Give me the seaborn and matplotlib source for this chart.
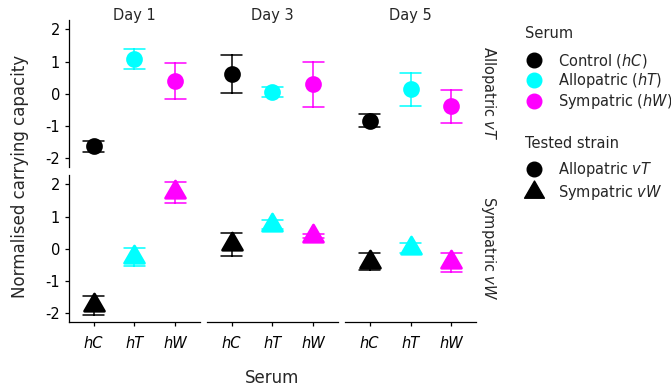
import pandas as pd
import numpy as np
import matplotlib
matplotlib.use("Agg")
import matplotlib.pyplot as plt
from matplotlib.lines import Line2D
from matplotlib.path import Path
import seaborn as sns

# Chart data: mean and half-width of the interval, [day][serum]
days = ["Day 1", "Day 3", "Day 5"]
sera = ["hC", "hT", "hW"]
strains = ["Allopatric vT", "Sympatric vW"]
strain_labels = [r"Allopatric $\mathit{vT}$", r"Sympatric $\mathit{vW}$"]
serum_labels = [r"Control ($\mathit{hC}$)", r"Allopatric ($\mathit{hT}$)", r"Sympatric ($\mathit{hW}$)"]

vT_mean = [[-1.63, 1.07, 0.40], [0.61, 0.05, 0.30], [-0.83, 0.14, -0.38]]
vT_err = [[0.18, 0.31, 0.55], [0.58, 0.15, 0.70], [0.21, 0.52, 0.51]]
vW_mean = [[-1.75, -0.25, 1.75], [0.14, 0.75, 0.40], [-0.40, 0.02, -0.42]]
vW_err = [[0.30, 0.27, 0.33], [0.36, 0.15, 0.06], [0.27, 0.15, 0.29]]

colors = ["#000000", "#00FFFF", "#FF00FF"]

# equilateral triangle centred on its centroid (like ggplot shape 17)
tri = Path([(0, 1), (-0.866, -0.5), (0.866, -0.5), (0, 1)],
           [Path.MOVETO, Path.LINETO, Path.LINETO, Path.CLOSEPOLY])
markers = ["o", tri]
msizes = [10, 16.5]

# long table: low / mean / high per cell -> median + full range reproduces mean +- err
rows = []
for s, (means, errs) in enumerate([(vT_mean, vT_err), (vW_mean, vW_err)]):
    for d, day in enumerate(days):
        for k, serum in enumerate(sera):
            m, e = means[d][k], errs[d][k]
            for v in (m - e, m, m + e):
                rows.append({"strain": strains[s], "day": day, "serum": serum, "value": v})
df = pd.DataFrame(rows)

sns.set_style("white")
plt.rcParams["font.family"] = ["DejaVu Sans"]
plt.rcParams["mathtext.fontset"] = "dejavusans"
plt.rcParams["axes.unicode_minus"] = False

fig, axes = plt.subplots(2, 3, figsize=(6.71, 3.88), dpi=100, sharey=True)
fig.subplots_adjust(left=0.1028, right=0.7094, top=0.9485, bottom=0.1701,
                    wspace=0.0534, hspace=0.0544)

for s, strain in enumerate(strains):
    for d, day in enumerate(days):
        ax = axes[s, d]
        sub = df[(df.strain == strain) & (df.day == day)]
        sns.pointplot(data=sub, x="serum", y="value", hue="serum", order=sera,
                      hue_order=sera, palette=colors, estimator="median",
                      errorbar=("pi", 100), markers=markers[s], linestyle="none",
                      capsize=0.5, err_kws={"linewidth": 1.1},
                      markersize=msizes[s], legend=False, ax=ax)
        ax.set_xlim(-0.6, 2.6)
        ax.set_ylim(-2.27, 2.29)
        ax.set_yticks([-2, -1, 0, 1, 2])
        ax.set_xlabel("")
        ax.set_ylabel("")
        for side in ["top", "right"]:
            ax.spines[side].set_visible(False)
        for side in ["bottom", "left"]:
            ax.spines[side].set_linewidth(0.9)
            ax.spines[side].set_color("black")
        ax.tick_params(axis="y", length=3, width=0.9, pad=3.5, labelsize=10.5,
                       colors="black", left=(d == 0), labelleft=(d == 0))
        ax.tick_params(axis="x", length=3, width=0.9, pad=7, labelsize=10.5,
                       colors="black", bottom=(s == 1), labelbottom=(s == 1))
        if d != 0:
            ax.spines["left"].set_visible(False)
        if s == 0:
            ax.spines["bottom"].set_visible(False)
            ax.set_title(day, fontsize=10.5, y=1.0, pad=0)
        else:
            for lab in ax.get_xticklabels():
                lab.set_fontstyle("italic")
        if d == 2:
            ax.annotate(strain_labels[s], xy=(1, 0.5), xycoords="axes fraction",
                        xytext=(9, 0), textcoords="offset points", rotation=270,
                        ha="center", va="center", fontsize=10.5)

fig.text(20 / 671, 1 - 176.5 / 388, "Normalised carrying capacity", rotation=90,
         ha="center", va="center", fontsize=12)
fig.text(272 / 671, 1 - 378 / 388, "Serum", ha="center", va="center", fontsize=12)

# legends: titles as separate text so their spacing can follow the reference
serum_handles = [Line2D([], [], linestyle="none", marker="o", markersize=10.5,
                        color=c) for c in colors]
strain_handles = [Line2D([], [], linestyle="none", marker=m, markersize=ms,
                         color="black") for m, ms in zip(markers, [10.5, 16.5])]
leg_kw = dict(frameon=False, loc="upper left", fontsize=10.5,
              borderpad=0, borderaxespad=0, handlelength=1.23,
              handletextpad=1.0)
fig.text(525 / 671, 1 - 34 / 388, "Serum", ha="left", va="center", fontsize=10.5)
fig.legend(serum_handles, serum_labels, labelspacing=0.13,
           bbox_to_anchor=(525 / 671, 1 - 51.5 / 388), **leg_kw)
fig.text(525 / 671, 1 - 143 / 388, "Tested strain", ha="left", va="center", fontsize=10.5)
fig.legend(strain_handles, [r"Allopatric $\mathit{vT}$", r"Sympatric $\mathit{vW}$"],
           labelspacing=0.3, bbox_to_anchor=(525 / 671, 1 - 160 / 388), **leg_kw)

fig.savefig("out.png", dpi=100)
